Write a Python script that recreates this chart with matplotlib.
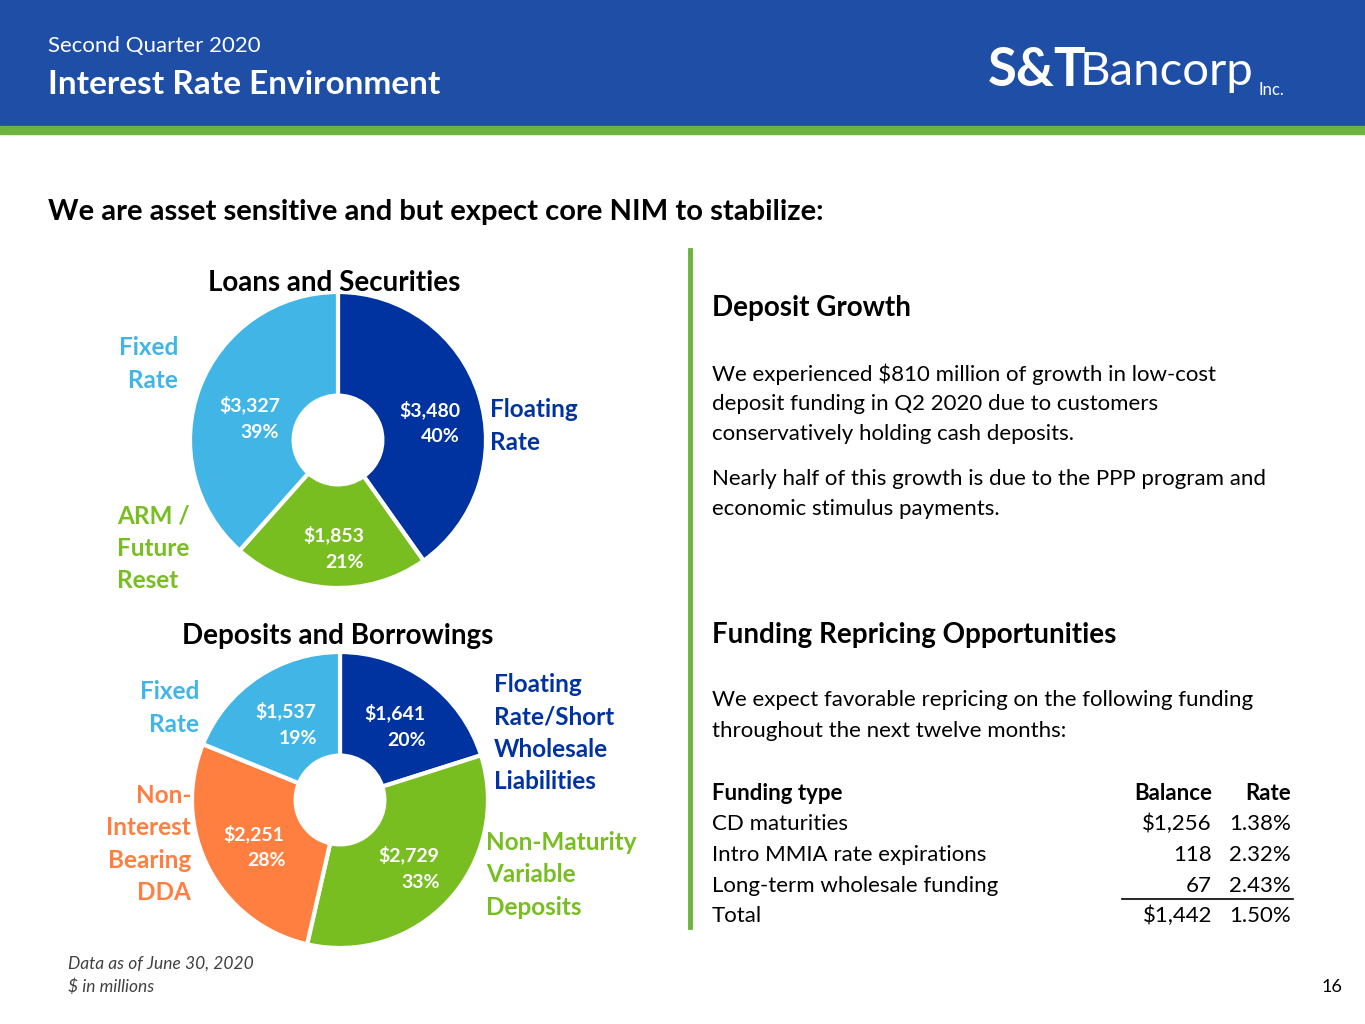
import matplotlib
matplotlib.use("Agg")
import matplotlib.pyplot as plt
import matplotlib.patches as mp

plt.rcParams['font.family'] = ['Lato', 'DejaVu Sans']

loan_labels = ["Floating Rate", "ARM / Future Reset", "Fixed Rate"]
loan_values = [3480, 1853, 3327]
loan_pcts = ["40%", "21%", "39%"]
dep_labels = ["Floating Rate/Short Wholesale Liabilities", "Non-Maturity Variable Deposits",
              "Non-Interest Bearing DDA", "Fixed Rate"]
dep_values = [1641, 2729, 2251, 1537]
dep_pcts = ["20%", "33%", "28%", "19%"]
fund_types = ["CD maturities", "Intro MMIA rate expirations", "Long-term wholesale funding"]
fund_bal = ["$1,256", "118", "67"]
fund_rate = ["1.38%", "2.32%", "2.43%"]
total_bal, total_rate = "$1,442", "1.50%"

DB, LB, GR, OR = "#0033a0", "#41b6e6", "#78be20", "#ff7f41"

W, H = 1365, 1024
fig = plt.figure(figsize=(13.65, 10.24), dpi=100)
ax = fig.add_axes([0, 0, 1, 1])
ax.set_xlim(0, W); ax.set_ylim(H, 0); ax.axis('off')

# header
ax.add_patch(mp.Rectangle((0, 0), W, 126, color="#1e4ea6", zorder=0))
ax.add_patch(mp.Rectangle((0, 126), W, 8, color="#6cb33f", zorder=0))
ax.text(48, 46, "Second Quarter 2020", color="white", fontsize=16, va="center")
ax.text(48, 85, "Interest Rate Environment", color="white", fontsize=24, weight="bold", va="center")
ax.text(988, 70, "S&T", color="white", fontsize=38, weight="bold", va="center")
ax.text(1080, 72, "Bancorp", color="white", fontsize=34, va="center")
ax.text(1258, 90, "Inc.", color="white", fontsize=12, va="center")

ax.text(48, 212, "We are asset sensitive and but expect core NIM to stabilize:",
        fontsize=21, weight="bold", va="center")
ax.plot([690, 690], [250, 927], color="#6cb33f", lw=3.5)

def pie(cx, cy, r, vals, cols):
    a = fig.add_axes([(cx - r) / W, 1 - (cy + r) / H, 2 * r / W, 2 * r / H])
    a.pie(vals, colors=cols, startangle=90, counterclock=False,
          wedgeprops=dict(width=0.70, edgecolor="white", linewidth=3))
    a.set_xlim(-1, 1); a.set_ylim(-1, 1); a.set_aspect('auto'); a.axis('off')

pie(338, 440, 148, loan_values, [DB, GR, LB])
pie(340, 800, 148, dep_values, [DB, GR, OR, LB])

# overlay for labels
ov = fig.add_axes([0, 0, 1, 1])
ov.set_xlim(0, W); ov.set_ylim(H, 0); ov.axis('off'); ov.patch.set_alpha(0)

def money(v): return "${:,}".format(v)

ov.text(334, 283, "Loans and Securities", fontsize=20, weight="bold", ha="center", va="center")
for (x, y), v, p in zip([(430, 410), (334, 535), (250, 405)], loan_values, loan_pcts):
    ov.text(x, y, money(v), color="white", fontsize=14, weight="bold", ha="center", va="center")
    ov.text(x + 10, y + 27, p, color="white", fontsize=14, weight="bold", ha="center", va="center")
ov.text(178, 336, "Fixed\n Rate", color=LB, fontsize=17.5, weight="bold", ha="right", va="top", linespacing=1.5)
ov.text(490, 426, "Floating\nRate", color=DB, fontsize=17.5, weight="bold", ha="left", va="center", linespacing=1.5)
ov.text(117, 548, "ARM /\nFuture\nReset", color=GR, fontsize=17.5, weight="bold", ha="left", va="center", linespacing=1.5)

ov.text(338, 636, "Deposits and Borrowings", fontsize=20, weight="bold", ha="center", va="center")
for (x, y), v, p in zip([(395, 713), (409, 855), (254, 834), (286, 711)], dep_values, dep_pcts):
    ov.text(x, y, money(v), color="white", fontsize=14, weight="bold", ha="center", va="center")
    ov.text(x + 12, y + 27, p, color="white", fontsize=14, weight="bold", ha="center", va="center")
ov.text(199, 680, "Fixed\nRate", color=LB, fontsize=17.5, weight="bold", ha="right", va="top", linespacing=1.5, multialignment="right")
ov.text(494, 733, "Floating\nRate/Short\nWholesale\nLiabilities", color=DB, fontsize=17.5, weight="bold", ha="left", va="center", linespacing=1.5)
ov.text(191, 844, "Non-\nInterest\nBearing\nDDA", color=OR, fontsize=17.5, weight="bold", ha="right", va="center", linespacing=1.5, multialignment="right")
ov.text(486, 875, "Non-Maturity\nVariable\nDeposits", color=GR, fontsize=17.5, weight="bold", ha="left", va="center", linespacing=1.5)

# right side
fs = 16
ax.text(712, 308, "Deposit Growth", fontsize=20, weight="bold", va="center")
ax.text(712, 374, "We experienced $810 million of growth in low-cost", fontsize=fs, va="center")
ax.text(712, 404, "deposit funding in Q2 2020 due to customers", fontsize=fs, va="center")
ax.text(712, 434, "conservatively holding cash deposits.", fontsize=fs, va="center")
ax.text(712, 479, "Nearly half of this growth is due to the PPP program and", fontsize=fs, va="center")
ax.text(712, 509, "economic stimulus payments.", fontsize=fs, va="center")

ax.text(712, 635, "Funding Repricing Opportunities", fontsize=20, weight="bold", va="center")
ax.text(712, 700, "We expect favorable repricing on the following funding", fontsize=fs, va="center")
ax.text(712, 731, "throughout the next twelve months:", fontsize=fs, va="center")
ax.text(712, 793, "Funding type", fontsize=fs, weight="bold", va="center")
ax.text(1212, 793, "Balance", fontsize=fs, weight="bold", va="center", ha="right")
ax.text(1291, 793, "Rate", fontsize=fs, weight="bold", va="center", ha="right")
for i, (t, b, r) in enumerate(zip(fund_types, fund_bal, fund_rate)):
    y = 824 + 31 * i
    ax.text(712, y, t, fontsize=fs, va="center")
    ax.text(1212, y, b, fontsize=fs, va="center", ha="right")
    ax.text(1291, y, r, fontsize=fs, va="center", ha="right")
ax.plot([1122, 1293], [899, 899], color="black", lw=1.2)
ax.text(712, 916, "Total", fontsize=fs, va="center")
ax.text(1212, 916, total_bal, fontsize=fs, va="center", ha="right")
ax.text(1291, 916, total_rate, fontsize=fs, va="center", ha="right")

ax.text(68, 964, "Data as of June 30, 2020", fontsize=12.5, style="italic", color="#404040", va="center")
ax.text(68, 987, "$ in millions", fontsize=12.5, style="italic", color="#404040", va="center")
ax.text(1342, 987, "16", fontsize=13, ha="right", va="center")

fig.savefig("out.png", dpi=100)
